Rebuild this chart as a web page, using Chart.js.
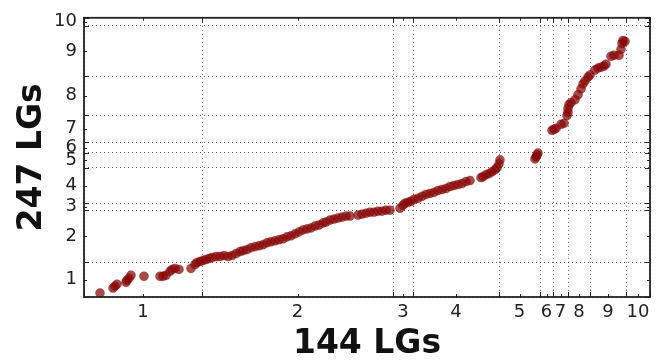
<!DOCTYPE html>
<html>
<head>
<meta charset="utf-8">
<script src="https://cdn.jsdelivr.net/npm/chart.js@4/dist/chart.umd.min.js"></script>
<style>
  body { margin: 0; background: #fff; }
  #wrap { width: 663px; height: 360px; }
</style>
</head>
<body>
<div id="wrap"><canvas id="myChart" width="663" height="360"></canvas></div>
<script>
// linkage group boundaries (cumulative position) on each map
const xBounds = [0, 118, 309, 329, 415, 456, 469, 484, 506, 542, 566];
const yBounds = [0, 35, 88, 95, 131, 146, 157, 184, 224, 275, 283];
const xNames = ['1', '2', '3', '4', '5', '6', '7', '8', '9', '10'];
const yNames = ['1', '2', '3', '4', '5', '6', '7', '8', '9', '10'];

// marker positions: 144 LGs map (x) vs 247 LGs map (y)
const xPos = [16, 29, 31, 33, 42, 43, 45, 47, 60, 76, 79, 82, 86, 88, 91, 95, 107, 111, 113, 116,
  119, 122, 125, 128, 132, 136, 140, 144, 148, 152, 156, 159, 163, 167, 171, 175, 179, 183, 187, 191,
  195, 199, 203, 207, 211, 215, 219, 223, 227, 231, 235, 239, 242, 246, 250, 254, 258, 262, 266,
  274, 278, 282, 286, 290, 294, 298, 302, 306,
  316, 319, 321, 324, 327,
  330, 334, 338, 342, 346, 350, 354, 358, 362, 366, 370, 374, 378, 382, 386,
  397, 399, 402, 405, 408, 411, 413, 415, 416,
  451, 452, 453, 454,
  468, 470, 472, 477, 480, 483, 484, 484, 485, 487, 491, 494, 497, 499, 501, 504, 506,
  511, 514, 517, 520, 522, 527, 530, 535, 537, 538, 539, 541];
const yPos = [4, 9, 11, 13, 15, 17, 19, 22, 21, 21, 21, 22, 26, 28, 29, 28, 29, 33, 35, 36,
  37, 38, 39, 40, 41, 41, 42, 41, 42, 44, 46, 47, 48, 50, 51, 52, 53, 55, 56, 57,
  58, 59, 61, 62, 64, 66, 68, 69, 70, 72, 73, 75, 76, 78, 79, 80, 81, 82, 82,
  83, 84, 85, 86, 86, 87, 87, 88, 88,
  90, 93, 95, 96, 97,
  99, 100, 102, 104, 105, 106, 108, 109, 110, 112, 113, 114, 115, 117, 118,
  121, 122, 124, 125, 127, 129, 131, 135, 139,
  140, 142, 144, 146,
  169, 170, 171, 175, 176, 184, 187, 191, 195, 197, 200, 205, 211, 216, 219, 223, 225,
  230, 232, 233, 234, 236, 244, 245, 245, 251, 257, 260, 259];

function mids(b) {
  const m = [];
  for (let i = 0; i < b.length - 1; i++) m.push((b[i] + b[i + 1]) / 2);
  return m;
}
const xMids = mids(xBounds);
const yMids = mids(yBounds);

function tickList(b, m) {
  return b.concat(m).sort((a, c) => a - c).map(v => ({ value: v }));
}

function labelFor(v, b, m, names) {
  const i = m.indexOf(v);
  return i >= 0 ? names[i] : '';
}

function gridColor(ctx, b) {
  if (ctx.tick && b.indexOf(ctx.tick.value) >= 0) return 'rgba(40,40,40,0.75)';
  return 'rgba(0,0,0,0)';
}

// matplotlib-like frame with inward ticks on all four sides
const frame = {
  id: 'frame',
  afterDraw(chart) {
    const { ctx, chartArea: { left, right, top, bottom } } = chart;
    const xs = chart.scales.x, ys = chart.scales.y;
    ctx.save();
    ctx.strokeStyle = '#222';
    ctx.lineWidth = 1;
    ctx.beginPath();
    xBounds.forEach(v => {
      const p = Math.round(xs.getPixelForValue(v)) + 0.5;
      ctx.moveTo(p, bottom); ctx.lineTo(p, bottom - 5);
      ctx.moveTo(p, top); ctx.lineTo(p, top + 5);
    });
    xMids.forEach(v => {
      const p = Math.round(xs.getPixelForValue(v)) + 0.5;
      ctx.moveTo(p, bottom); ctx.lineTo(p, bottom - 3);
      ctx.moveTo(p, top); ctx.lineTo(p, top + 3);
    });
    yBounds.forEach(v => {
      const p = Math.round(ys.getPixelForValue(v)) + 0.5;
      ctx.moveTo(left, p); ctx.lineTo(left + 5, p);
      ctx.moveTo(right, p); ctx.lineTo(right - 5, p);
    });
    yMids.forEach(v => {
      const p = Math.round(ys.getPixelForValue(v)) + 0.5;
      ctx.moveTo(left, p); ctx.lineTo(left + 3, p);
      ctx.moveTo(right, p); ctx.lineTo(right - 3, p);
    });
    ctx.stroke();
    ctx.lineWidth = 1.8;
    ctx.strokeRect(left, top, right - left, bottom - top);
    ctx.restore();
  }
};

const points = xPos.map((x, i) => ({ x: x, y: yPos[i] }));

new Chart(document.getElementById('myChart'), {
  type: 'scatter',
  data: {
    datasets: [{
      data: points,
      backgroundColor: 'rgba(135,5,5,0.72)',
      borderColor: 'rgba(135,5,5,0.35)',
      borderWidth: 1,
      pointRadius: 4.5,
    }]
  },
  options: {
    responsive: false,
    animation: false,
    devicePixelRatio: 1,
    layout: { padding: { top: 14, right: 13, left: 0, bottom: 0 } },
    plugins: { legend: { display: false }, tooltip: { enabled: false } },
    scales: {
      x: {
        type: 'linear',
        min: 0,
        max: 566,
        afterBuildTicks: s => { s.ticks = tickList(xBounds, xMids); },
        afterFit: s => { s.height = 63; },
        grid: { color: c => gridColor(c, xBounds), drawTicks: false, lineWidth: 1 },
        border: { display: false, dash: [1, 3] },
        ticks: {
          autoSkip: false,
          maxRotation: 0,
          padding: 5,
          color: '#222',
          font: { family: 'DejaVu Sans', size: 18 },
          callback: v => labelFor(v, xBounds, xMids, xNames)
        },
        title: {
          display: true,
          text: '144 LGs',
          color: '#111',
          font: { family: 'DejaVu Sans', size: 33, weight: 'bold', lineHeight: 1 },
          padding: { top: 0, bottom: -1 }
        }
      },
      y: {
        type: 'linear',
        min: 0,
        max: 283,
        afterBuildTicks: s => { s.ticks = tickList(yBounds, yMids); },
        afterFit: s => { s.width = 84; },
        grid: { color: c => gridColor(c, yBounds), drawTicks: false, lineWidth: 1 },
        border: { display: false, dash: [1, 3] },
        ticks: {
          autoSkip: false,
          padding: 7,
          color: '#222',
          font: { family: 'DejaVu Sans', size: 18 },
          callback: v => labelFor(v, yBounds, yMids, yNames)
        },
        title: {
          display: true,
          text: '247 LGs',
          color: '#111',
          font: { family: 'DejaVu Sans', size: 33, weight: 'bold', lineHeight: 1.2 },
          padding: { top: 13, bottom: 0 }
        }
      }
    }
  },
  plugins: [frame]
});
</script>
</body>
</html>
